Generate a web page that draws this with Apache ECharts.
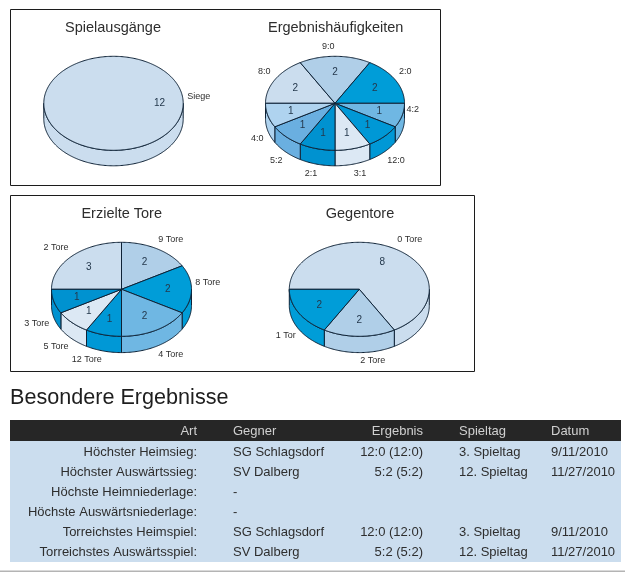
<!DOCTYPE html>
<html><head><meta charset="utf-8">
<style>html,body{margin:0;padding:0;background:#fff}#c{width:625px;height:572px}</style>
<script src="https://cdn.jsdelivr.net/npm/echarts@6/dist/echarts.min.js"></script>
</head><body><div id="c"></div>
<script>
// ---- data ----
const spielausgaengeLabels = ['Siege'];
const spielausgaengeValues = [12];
const haeufigkeitLabels = ['8:0','9:0','2:0','4:2','12:0','3:1','2:1','5:2','4:0'];
const haeufigkeitValues = [2,2,2,1,1,1,1,1,1];
const toreLabels = ['2 Tore','9 Tore','8 Tore','4 Tore','12 Tore','5 Tore','3 Tore'];
const toreValues = [3,2,2,2,1,1,1];
const gegentoreLabels = ['0 Tore','2 Tore','1 Tor'];
const gegentoreValues = [8,2,2];
const tableColumns = ['Art','Gegner','Ergebnis','Spieltag','Datum'];
const tableArt = ['Höchster Heimsieg:','Höchster Auswärtssieg:','Höchste Heimniederlage:','Höchste Auswärtsniederlage:','Torreichstes Heimspiel:','Torreichstes Auswärtsspiel:'];
const tableGegner = ['SG Schlagsdorf','SV Dalberg','-','-','SG Schlagsdorf','SV Dalberg'];
const tableErgebnis = ['12:0 (12:0)','5:2 (5:2)','','','12:0 (12:0)','5:2 (5:2)'];
const tableSpieltag = ['3. Spieltag','12. Spieltag','','','3. Spieltag','12. Spieltag'];
const tableDatum = ['9/11/2010','11/27/2010','','','9/11/2010','11/27/2010'];

// ---- style / layout ----
const palette = ['#CBDDEE','#B0CFE8','#009DD8','#6FB7E3','#0098D6','#DCE8F4','#0092D0','#6AAFE0','#AFD3EF'];
const lineColor = '#0E2236', textColor = '#2E2E2E';
const pieLayouts = [
  {title:'Spielausgänge', tx:113, ty:27.5, cx:113.5, cy:103.3, rx:69.7, ry:47, depth:15.5,
   names:spielausgaengeLabels, values:spielausgaengeValues, offs:[[85.2,-6.3]]},
  {title:'Ergebnishäufigkeiten', tx:335.7, ty:27.5, cx:335, cy:103.3, rx:69.5, ry:47, depth:15.5,
   names:haeufigkeitLabels, values:haeufigkeitValues,
   offs:[[-70.7,-31.6],[-6.7,-56.3],[70.3,-31.6],[77.7,6.7],[61,57.4],[25,70.7],[-24,70.7],[-58.7,57.4],[-77.7,35]]},
  {title:'Erzielte Tore', tx:121.7, ty:213.5, cx:121.5, cy:289.3, rx:70, ry:47, depth:16.3,
   names:toreLabels, values:toreValues,
   offs:[[-65.5,-41.6],[49.2,-49.6],[86.2,-6.6],[49.2,65.4],[-34.8,70.4],[-65.5,57.4],[-84.8,34.4]]},
  {title:'Gegentore', tx:360, ty:213.5, cx:359.3, cy:289.3, rx:70, ry:47, depth:16.3,
   names:gegentoreLabels, values:gegentoreValues,
   offs:[[50.4,-49.6],[13.4,71.7],[-73.6,46.4]]}
];
const boxes = [[10.5,9.5,430,176],[10.5,195.5,464,176]];
const colX = [197,233,423,459,551];
const colAlign = ['right','left','right','left','left'];
const headerTop = 420, headerH = 21, rowH = 20.15;

function ellipsePts(p, a0, a1, dy){
  const pts = [], n = Math.max(2, Math.ceil(Math.abs(a0-a1)));
  for(let i=0;i<=n;i++){
    const t = (a0+(a1-a0)*i/n)*Math.PI/180;
    pts.push([p.cx+p.rx*Math.cos(t), p.cy-p.ry*Math.sin(t)+dy]);
  }
  return pts;
}
function pieSeries(p){
  const sum = p.values.reduce((a,b)=>a+b,0);
  return {
    type:'custom', coordinateSystem:'none', silent:true,
    data:p.values.map((v,i)=>({name:p.names[i],value:[v,i]})),
    renderItem(params, api){
      const v = api.value(0), i = params.dataIndex;
      let before = 0; for(let k=0;k<i;k++) before += p.values[k];
      const toAngle = x => echarts.number.linearMap(x,[0,sum],[180,-180]);
      const a0 = toAngle(before), a1 = toAngle(before+v);
      const color = palette[i%palette.length];
      const style = {fill:color, stroke:lineColor, lineWidth:1};
      const kids = [];
      const hi = Math.min(a0,0), lo = Math.max(a1,-180);
      if(hi>lo){
        const top = ellipsePts(p,hi,lo,0), bot = ellipsePts(p,lo,hi,p.depth);
        kids.push({type:'polygon',shape:{points:top.concat(bot)},style});
      }
      let pts = ellipsePts(p,a0,a1,0);
      if(v<sum) pts = pts.concat([[p.cx,p.cy]]);
      kids.push({type:'polygon',shape:{points:pts},style});
      const mid = (a0+a1)/2*Math.PI/180;
      kids.push({type:'text',z2:5,style:{text:String(v),x:p.cx+0.66*p.rx*Math.cos(mid),y:p.cy-0.66*p.ry*Math.sin(mid),
        align:'center',verticalAlign:'middle',fill:'#24384C',font:'10px "Liberation Sans"'}});
      kids.push({type:'text',z2:5,style:{text:p.names[i],x:p.cx+p.offs[i][0],y:p.cy+p.offs[i][1],
        align:'center',verticalAlign:'middle',fill:textColor,font:'9px "Liberation Sans"'}});
      return {type:'group',children:kids};
    }
  };
}
const graphics = [];
boxes.forEach(b=>graphics.push({type:'rect',silent:true,z:-1,shape:{x:b[0],y:b[1],width:b[2],height:b[3]},style:{fill:'#fff',stroke:'#1c1c1c',lineWidth:1}}));
graphics.push({type:'rect',silent:true,shape:{x:10,y:headerTop,width:611,height:headerH},style:{fill:'#262626'}});
graphics.push({type:'rect',silent:true,shape:{x:10,y:headerTop+headerH,width:611,height:rowH*tableArt.length},style:{fill:'#CBDDEE'}});
graphics.push({type:'rect',silent:true,shape:{x:0,y:570.5,width:625,height:2},style:{fill:'#B4B4B4'}});
tableColumns.forEach((c,i)=>graphics.push({type:'text',silent:true,style:{text:c,x:colX[i],y:headerTop+headerH/2+1,align:colAlign[i],verticalAlign:'middle',fill:'#D0D0D0',font:'13px "Liberation Sans"'}}));
[tableArt,tableGegner,tableErgebnis,tableSpieltag,tableDatum].forEach((col,i)=>col.forEach((t,r)=>{
  if(t) graphics.push({type:'text',silent:true,style:{text:t,x:colX[i],y:headerTop+headerH+rowH*(r+0.5)+1,align:colAlign[i],verticalAlign:'middle',fill:'#2E2E2E',font:'13px "Liberation Sans"'}});
}));
const titles = pieLayouts.map(p=>({text:p.title,left:p.tx,top:p.ty,textAlign:'center',textVerticalAlign:'middle',padding:0,
  textStyle:{fontSize:14.5,fontWeight:'normal',color:'#2E2E2E',fontFamily:'Liberation Sans'}}));
titles.push({text:'Besondere Ergebnisse',left:10,top:398.5,textVerticalAlign:'middle',padding:0,
  textStyle:{fontSize:21.6,fontWeight:'normal',color:'#1E1E1E',fontFamily:'Liberation Sans'}});
const chart = echarts.init(document.getElementById('c'));
chart.setOption({animation:false,backgroundColor:'#fff',title:titles,graphic:{elements:graphics},series:pieLayouts.map(pieSeries)});
</script></body></html>
